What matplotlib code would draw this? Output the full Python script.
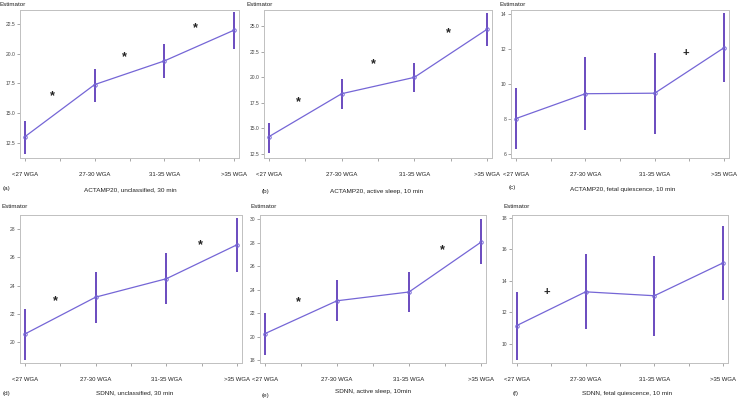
import matplotlib
matplotlib.use('Agg')
import matplotlib.pyplot as plt

plt.rcParams['font.family'] = ['Liberation Sans', 'DejaVu Sans']

cats = ['<27 WGA', '27-30 WGA', '31-35 WGA', '>35 WGA']

# panel values: estimate, lower CI, upper CI
a_est = [13.0, 17.4, 19.4, 22.0]
a_lo = [11.55, 15.95, 17.95, 20.4]
a_hi = [14.35, 18.75, 20.8, 23.5]
b_est = [14.2, 18.4, 20.0, 24.7]
b_lo = [12.6, 16.9, 18.6, 23.1]
b_hi = [15.55, 19.8, 21.4, 26.3]
c_est = [8.05, 9.47, 9.5, 12.1]
c_lo = [6.3, 7.4, 7.15, 10.15]
c_hi = [9.8, 11.55, 11.8, 14.1]
d_est = [20.6, 23.2, 24.5, 26.9]
d_lo = [18.75, 21.4, 22.75, 24.95]
d_hi = [22.35, 25.0, 26.3, 28.8]
e_est = [20.25, 23.05, 23.8, 28.05]
e_lo = [18.45, 21.3, 22.05, 26.15]
e_hi = [22.0, 24.8, 25.5, 30.0]
f_est = [11.15, 13.3, 13.05, 15.15]
f_lo = [8.95, 10.9, 10.5, 12.8]
f_hi = [13.3, 15.7, 15.6, 17.5]

# significance marks between groups
a_sig_x = [0.4, 1.42, 2.45]; a_sig_y = [16.4, 19.7, 22.2]
b_sig_x = [0.41, 1.44, 2.47]; b_sig_y = [17.6, 21.3, 24.3]
c_sig_x = [2.45]; c_sig_y = [11.8]
d_sig_x = [0.43, 2.48]; d_sig_y = [22.9, 26.9]
e_sig_x = [0.46, 2.47]; e_sig_y = [22.9, 27.4]
f_sig_x = [0.43]; f_sig_y = [13.3]

titles = ['ACTAMP20, unclassified, 30 min', 'ACTAMP20, active sleep, 10 min',
          'ACTAMP20, fetal quiescence, 10 min', 'SDNN, unclassified, 30 min',
          'SDNN, active sleep, 10min', 'SDNN, fetal quiescence, 10 min']
letters = ['(a)', '(b)', '(c)', '(d)', '(e)', '(f)']

W, H = 740, 400
fig = plt.figure(figsize=(W / 100, H / 100), dpi=100)
fig.patch.set_facecolor('white')


def box(l, t, r, b):
    return [l / W, 1 - b / H, (r - l) / W, (b - t) / H]


panels = [
    (box(20, 10, 239, 158), a_est, a_lo, a_hi, a_sig_x, a_sig_y, '*', (11.2, 23.7), [12.5, 15.0, 17.5, 20.0, 22.5], '%.1f'),
    (box(264, 10, 492, 158), b_est, b_lo, b_hi, b_sig_x, b_sig_y, '*', (12.1, 26.6), [12.5, 15.0, 17.5, 20.0, 22.5, 25.0], '%.1f'),
    (box(511, 10, 729, 158), c_est, c_lo, c_hi, c_sig_x, c_sig_y, '+', (5.8, 14.25), [6, 8, 10, 12, 14], '%d'),
    (box(20, 215, 242, 363), d_est, d_lo, d_hi, d_sig_x, d_sig_y, '*', (18.55, 29.0), [20, 22, 24, 26, 28], '%d'),
    (box(260, 215, 486, 363), e_est, e_lo, e_hi, e_sig_x, e_sig_y, '*', (17.74, 30.37), [18, 20, 22, 24, 26, 28, 30], '%d'),
    (box(512, 215, 728, 363), f_est, f_lo, f_hi, f_sig_x, f_sig_y, '+', (8.76, 18.2), [10, 12, 14, 16, 18], '%d'),
]

line_c = '#7566d6'
ci_c = '#6a4bbf'
xs = list(range(len(cats)))

for pos, est, lo, hi, sx, sy, mark, ylim, yt, fmt in panels:
    ax = fig.add_axes(pos)
    ax.vlines(xs, lo, hi, color=ci_c, lw=1.4, zorder=2)
    ax.plot(xs, est, color=line_c, lw=0.9, marker='o', ms=2.5, mfc='none', mec=line_c, mew=0.7, zorder=3)
    for x, y in zip(sx, sy):
        ax.text(x, y, mark, ha='center', va='center', fontsize=9 if mark == '*' else 8,
                fontweight='bold', color='#222222')
    ax.set_xlim(-0.07, 3.07)
    ax.set_ylim(*ylim)
    ax.set_xticks(xs)
    ax.set_xticklabels(cats, fontsize=4.3, color='#222222')
    ax.set_xticks([0.5, 1.5, 2.5], minor=True)
    ax.set_yticks(yt)
    ax.set_yticklabels([fmt % v for v in yt], fontsize=3.6, color='#444444')
    ax.tick_params(axis='x', which='both', length=2.5, pad=7.5, color='#999999', width=0.6)
    ax.tick_params(axis='y', length=2, pad=1.5, color='#999999', width=0.6)
    for s in ax.spines.values():
        s.set_color('#c0c0c0')
        s.set_linewidth(0.7)

# panel annotations (pixel positions)
est_pos = [(0, 4), (247, 4), (499, 4), (2, 207), (251, 207), (503, 207)]
letter_pos = [(3, 189), (262, 191), (509, 188), (3, 393), (262, 396), (513, 393)]
title_pos = [(130, 190), (377, 191), (623, 190), (135, 393), (373, 391), (627, 393)]
for (ex, ey), (lx, ly), (tx, ty), ttl, let in zip(est_pos, letter_pos, title_pos, titles, letters):
    fig.text(ex / W, 1 - ey / H, 'Estimator', fontsize=4.5, ha='left', va='center', color='#222222')
    fig.text(lx / W, 1 - ly / H, let, fontsize=4.5, ha='left', va='center', color='#222222')
    fig.text(tx / W, 1 - ty / H, ttl, fontsize=4.6, ha='center', va='center', color='#222222')

fig.savefig('out.png', dpi=100)
